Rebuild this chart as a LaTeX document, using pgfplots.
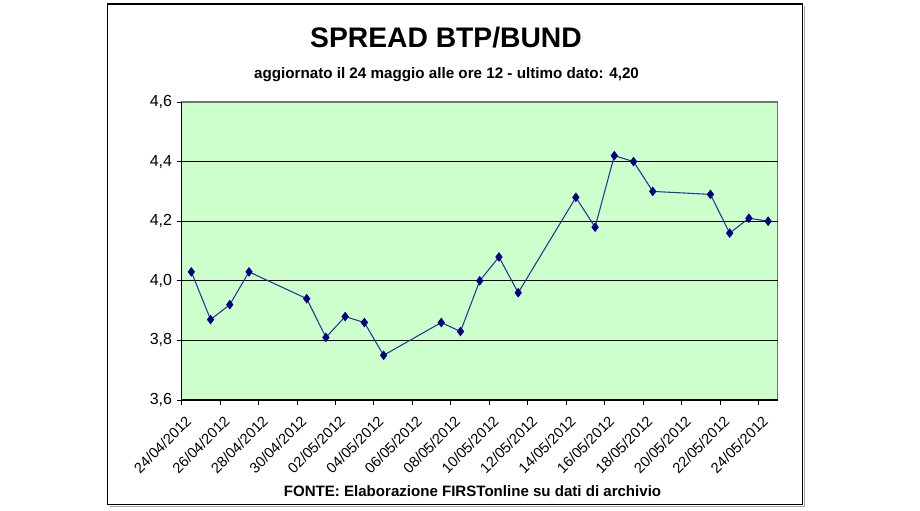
\documentclass[border=0pt]{standalone}
\usepackage{fontspec}
\setmainfont{Liberation Sans}
\usepackage{pgfplots}
\pgfplotsset{compat=1.18}
\definecolor{navy}{RGB}{0,0,128}
\definecolor{linecol}{RGB}{35,55,150}
\definecolor{bggreen}{RGB}{204,255,204}
\begin{document}
\begin{tikzpicture}
\begin{scope}[x=0.75pt,y=-0.75pt]
\path[fill=white,use as bounding box] (0,0) rectangle (920,510);
\draw[gray!70,line width=0.9pt] (110,506.5) -- (804.5,506.5) -- (804.5,6);
\draw[black,line width=0.9pt] (107.7,4) rectangle (802.3,504.3);
\node[font=\bfseries\fontsize{21.2}{24}\selectfont] at (446,38) {SPREAD BTP/BUND};
\node[font=\bfseries\fontsize{11.4}{13}\selectfont] at (446.5,75) {aggiornato il 24 maggio alle ore 12 - ultimo dato: 4,20};
\node[font=\bfseries\fontsize{11.3}{13}\selectfont] at (472.5,491) {FONTE: Elaborazione FIRSTonline su dati di archivio};
\end{scope}
\begin{axis}[
  at={(136.3pt,-300pt)}, anchor=south west,
  scale only axis, width=447pt, height=223.5pt,
  xmin=0, xmax=31, ymin=3.6, ymax=4.6,
  axis background/.style={fill=bggreen, draw=gray!90!black, line width=0.8pt},
  axis x line*=bottom, axis y line*=left,
  axis line style={black, line width=0.9pt, -},
  tick align=outside, major tick length=3.75pt,
  tick style={black, line width=0.75pt},
  xtick={0,2,4,6,8,10,12,14,16,18,20,22,24,26,28,30},
  xticklabels={24/04/2012,26/04/2012,28/04/2012,30/04/2012,02/05/2012,04/05/2012,06/05/2012,08/05/2012,10/05/2012,12/05/2012,14/05/2012,16/05/2012,18/05/2012,20/05/2012,22/05/2012,24/05/2012},
  xticklabel style={font=\fontsize{11}{13}\selectfont, rotate=45, anchor=north east, inner sep=1pt, xshift=-2.5pt, yshift=-5.5pt},
  ytick={3.6,3.8,4.0,4.2,4.4,4.6},
  yticklabel style={font=\fontsize{12}{14}\selectfont, /pgf/number format/.cd, fixed, fixed zerofill, precision=1, use comma, assume math mode=true},
  extra y ticks={3.8,4.0,4.2,4.4},
  extra y tick labels={},
  extra y tick style={grid=major, major tick length=3.75pt},
  major grid style={black, line width=1pt},
  clip=false,
]
\addplot[color=linecol, line width=0.8pt, mark=diamond*, mark size=3pt, mark options={fill=navy, draw=navy}] coordinates {
(0.5,4.03) (1.5,3.87) (2.5,3.92) (3.5,4.03)
(6.5,3.94) (7.5,3.81) (8.5,3.88) (9.5,3.86) (10.5,3.75)
(13.5,3.86) (14.5,3.83) (15.5,4.00) (16.5,4.08) (17.5,3.96)
(20.5,4.28) (21.5,4.18) (22.5,4.42) (23.5,4.40) (24.5,4.30)
(27.5,4.29) (28.5,4.16) (29.5,4.21) (30.5,4.20)
};
\end{axis}
\end{tikzpicture}
\end{document}
